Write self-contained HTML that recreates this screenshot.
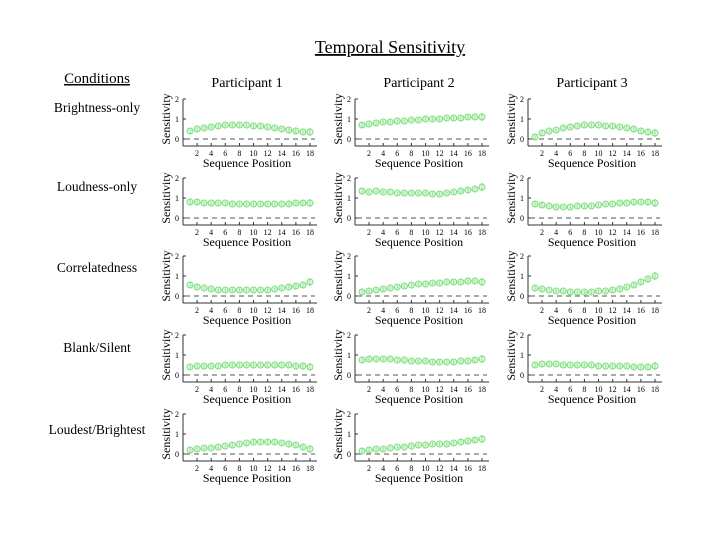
<!DOCTYPE html>
<html><head><meta charset="utf-8"><style>
body{margin:0;background:#fff;}
svg{display:block;font-family:"Liberation Serif",serif;}
</style></head><body>
<svg id="chart" width="720" height="540" viewBox="0 0 720 540">
<text x="390" y="53" font-size="18" text-anchor="middle" text-decoration="underline">Temporal Sensitivity</text>
<text x="97" y="83" font-size="15" text-anchor="middle" text-decoration="underline">Conditions</text>
<g id="plots"></g>
</svg>
<script>
const participants = ["Participant 1","Participant 2","Participant 3"];
const conditions = ["Brightness-only","Loudness-only","Correlatedness","Blank/Silent","Loudest/Brightest"];
const positions = [1,2,3,4,5,6,7,8,9,10,11,12,13,14,15,16,17,18];
const xTickLabels = [2,4,6,8,10,12,14,16,18];
const yTickLabels = [0,1,2];
const brightP1 = [0.4,0.5,0.55,0.6,0.65,0.7,0.7,0.7,0.7,0.65,0.65,0.6,0.55,0.5,0.45,0.4,0.35,0.35];
const brightP2 = [0.7,0.75,0.8,0.85,0.85,0.9,0.9,0.95,0.95,1.0,1.0,1.0,1.05,1.05,1.05,1.1,1.1,1.1];
const brightP3 = [0.1,0.3,0.4,0.45,0.55,0.6,0.65,0.7,0.7,0.7,0.65,0.65,0.6,0.55,0.5,0.4,0.35,0.3];
const loudP1 = [0.8,0.8,0.75,0.75,0.75,0.75,0.7,0.7,0.7,0.7,0.7,0.7,0.7,0.7,0.7,0.75,0.75,0.75];
const loudP2 = [1.35,1.3,1.35,1.3,1.3,1.25,1.25,1.25,1.25,1.25,1.2,1.2,1.25,1.3,1.35,1.4,1.45,1.55];
const loudP3 = [0.7,0.65,0.6,0.55,0.55,0.55,0.6,0.6,0.6,0.65,0.7,0.7,0.75,0.75,0.8,0.8,0.8,0.75];
const corrP1 = [0.55,0.45,0.4,0.35,0.3,0.3,0.3,0.3,0.3,0.3,0.3,0.3,0.35,0.4,0.45,0.5,0.55,0.7];
const corrP2 = [0.2,0.25,0.3,0.35,0.4,0.45,0.5,0.55,0.6,0.6,0.65,0.65,0.7,0.7,0.7,0.75,0.75,0.7];
const corrP3 = [0.4,0.35,0.3,0.25,0.25,0.2,0.2,0.2,0.2,0.25,0.25,0.3,0.35,0.45,0.55,0.7,0.85,1.0];
const blankP1 = [0.4,0.45,0.45,0.45,0.45,0.5,0.5,0.5,0.5,0.5,0.5,0.5,0.5,0.5,0.5,0.45,0.45,0.4];
const blankP2 = [0.75,0.8,0.8,0.8,0.8,0.75,0.75,0.7,0.7,0.7,0.65,0.65,0.65,0.65,0.7,0.7,0.75,0.8];
const blankP3 = [0.5,0.55,0.55,0.55,0.5,0.5,0.5,0.5,0.5,0.45,0.45,0.45,0.45,0.45,0.4,0.4,0.4,0.45];
const loudestP1 = [0.2,0.25,0.3,0.3,0.35,0.4,0.45,0.5,0.55,0.6,0.6,0.6,0.6,0.55,0.5,0.45,0.35,0.25];
const loudestP2 = [0.15,0.2,0.25,0.25,0.3,0.35,0.35,0.4,0.45,0.45,0.5,0.5,0.5,0.55,0.6,0.65,0.7,0.75];
const errorHalf = [0.15,0.12,0.1,0.1,0.1,0.1,0.1,0.1,0.1,0.1,0.1,0.1,0.1,0.1,0.12,0.12,0.15,0.2];
const grid = [
 [brightP1,brightP2,brightP3],
 [loudP1,loudP2,loudP3],
 [corrP1,corrP2,corrP3],
 [blankP1,blankP2,blankP3],
 [loudestP1,loudestP2,null]
];

const NS="http://www.w3.org/2000/svg";
const root=document.getElementById('plots');
const colAxisX=[183,355,528];
const rowZeroY=[139,218,296,375,454];
const rowLabelY=[112,191,272,352,434];
function mk(tag,attrs,parent){const e=document.createElementNS(NS,tag);for(const k in attrs)e.setAttribute(k,attrs[k]);(parent||root).appendChild(e);return e;}

participants.forEach((p,c)=>{
  const t=mk('text',{x:colAxisX[c]+64,y:87,'font-size':14,'text-anchor':'middle'});
  
  
  t.textContent=p;
});
conditions.forEach((cn,r)=>{
  const t=mk('text',{x:97,y:rowLabelY[r],'font-size':13.5,'text-anchor':'middle'});
  
  
  t.textContent=cn;
});

grid.forEach((row,r)=>row.forEach((series,c)=>{
  if(!series) return;
  const ax=colAxisX[c], z=rowZeroY[r];
  const xs=i=>ax+7+(i-1)*(120/17);
  const ys=v=>z-v*20;
  const g=mk('g',{});
  
  
  const ya=mk('line',{x1:ax,y1:ys(2),x2:ax,y2:z+7,stroke:'#333','stroke-width':1},g);
  
  
  yTickLabels.forEach(v=>{
    mk('line',{x1:ax,y1:ys(v),x2:ax+3,y2:ys(v),stroke:'#333','stroke-width':1},g);
    const t=mk('text',{x:ax-4,y:ys(v)+3,'font-size':8,'text-anchor':'end'},g);
    
    
    t.textContent=v;
  });
  const xa=mk('line',{x1:ax,y1:z+7,x2:ax+134,y2:z+7,stroke:'#333','stroke-width':1},g);
  
  
  xTickLabels.forEach(v=>{
    mk('line',{x1:xs(v),y1:z+7,x2:xs(v),y2:z+4,stroke:'#333','stroke-width':1},g);
    const t=mk('text',{x:xs(v),y:z+17,'font-size':8,'text-anchor':'middle'},g);
    
    
    t.textContent=v;
  });
  const zl=mk('line',{x1:ax+2,y1:z,x2:ax+132,y2:z,stroke:'#777','stroke-width':1.2,'stroke-dasharray':'5,4'},g);
  
  
  const xl=mk('text',{x:ax+64,y:z+28,'font-size':12,'text-anchor':'middle'},g);
  
  
  xl.textContent='Sequence Position';
  const yl=mk('text',{x:0,y:0,'font-size':12,'text-anchor':'middle',transform:'translate('+(ax-13)+','+(z-20)+') rotate(-90)'},g);
  
  
  yl.textContent='Sensitivity';
  const pts=positions.map((p,i)=>xs(p)+','+ys(series[i])).join(' ');
  const ln=mk('polyline',{points:pts,fill:'none',stroke:'#b5efb5','stroke-width':1.2,'stroke-dasharray':'3,2'},g);
  
  
  positions.forEach((p,i)=>{
    const x=xs(p),y=ys(series[i]),e=errorHalf[i]*20;
    const eb=mk('line',{x1:x,y1:y-e,x2:x,y2:y+e,stroke:'#6fd66f','stroke-width':1},g);
    
    
    const pt=mk('circle',{cx:x,cy:y,r:3,fill:'rgba(200,245,200,0.5)',stroke:'#7ddc7d','stroke-width':1},g);
    
    
  });
}));
</script>
</body></html>
